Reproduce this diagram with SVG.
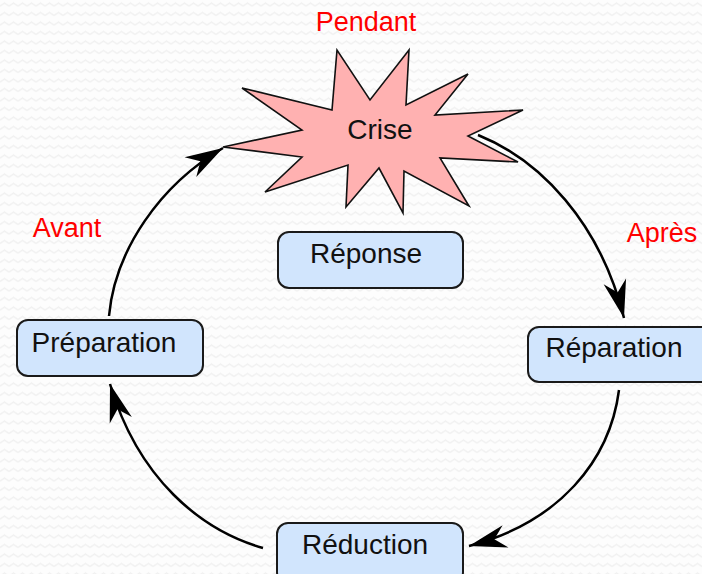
<svg xmlns="http://www.w3.org/2000/svg" width="702" height="574" viewBox="0 0 702 574">
  <style>
    .box { fill: #d1e5fd; stroke: #1a1a1a; stroke-width: 2; }
    .star { fill: #ffb1b1; stroke: #111; stroke-width: 1.6; stroke-linejoin: miter; }
    .lbl { font-family: "Liberation Sans", Arial, sans-serif; font-size: 28px; fill: #111; text-anchor: middle; }
    .phase { font-family: "Liberation Sans", Arial, sans-serif; font-size: 27px; fill: #ff0000; text-anchor: middle; }
    .conn { fill: none; stroke: #000; stroke-width: 2.5; marker-end: url(#head); }
  </style>
  <defs>
    <pattern id="zigzag" width="9" height="9.5" patternUnits="userSpaceOnUse">
      <path d="M0,6 L4.5,3 L9,6" fill="none" stroke="#f0f0f0" stroke-width="1.3"/>
    </pattern>
    <marker id="head" markerUnits="userSpaceOnUse" markerWidth="42" markerHeight="30" viewBox="-38 -13 40 26" refX="0" refY="0" orient="auto">
      <path d="M0,0 L-36,-11 L-25,0 L-36,11 Z" fill="#000"/>
    </marker>
  </defs>

  <!-- background -->
  <rect width="702" height="574" fill="#fdfdfd"/>
  <rect width="702" height="574" fill="url(#zigzag)"/>

  <!-- cycle connectors -->
  <g id="connectors">
    <path class="conn" d="M478,135 C540,160 600,222 624,318"/>
    <path class="conn" d="M619,390 C610,460 560,522 469,546"/>
    <path class="conn" d="M263,548 C200,530 138,478 110,384"/>
    <path class="conn" d="M109,316 C115,250 160,185 223,148"/>
  </g>

  <g id="crise">
    <polygon class="star" points="223,147 302,130 242,88 332,110 337,50 370,100 409,50 406,105 468,74 435,115 523,110 468,136 518,162 440,158 469,206 404,171 403,213 379,168 346,207 348,165 265,192 302,157"/>
    <text class="lbl" x="380" y="139">Crise</text>
  </g>

  <g id="reponse">
    <rect class="box" x="278" y="232" width="185" height="56" rx="11"/>
    <text class="lbl" x="366" y="263">Réponse</text>
  </g>

  <g id="preparation">
    <rect class="box" x="17" y="320" width="186" height="56" rx="11"/>
    <text class="lbl" x="104" y="352">Préparation</text>
  </g>

  <g id="reparation">
    <rect class="box" x="528" y="327" width="186" height="55" rx="11"/>
    <text class="lbl" x="614" y="357">Réparation</text>
  </g>

  <g id="reduction">
    <rect class="box" x="277" y="523" width="186" height="60" rx="11"/>
    <text class="lbl" x="365" y="554">Réduction</text>
  </g>

  <g id="phases">
    <text class="phase" x="366" y="31">Pendant</text>
    <text class="phase" x="67" y="237">Avant</text>
    <text class="phase" x="662" y="242">Après</text>
  </g>
</svg>
